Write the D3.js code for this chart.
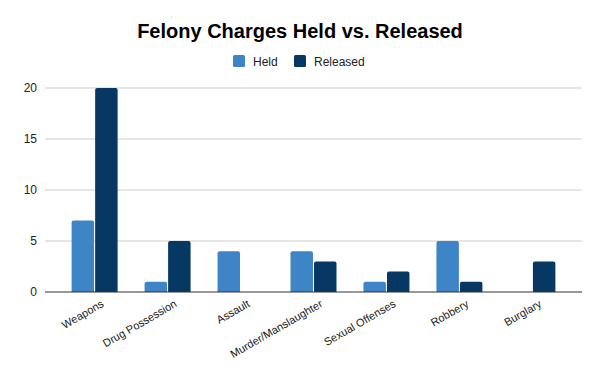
<!DOCTYPE html>
<html lang="en">
<head>
    <meta charset="UTF-8">
    <title>Felony Charges Held vs. Released</title>
    <script src="https://d3js.org/d3.v7.min.js"></script>
    <style>
        body { margin: 0; background: #fff; font-family: Arial, "Liberation Sans", sans-serif; }
    </style>
</head>
<body>
    <div id="chart"></div>
    <script>
        // Data
        const categories = ["Weapons", "Drug Possession", "Assault", "Murder/Manslaughter", "Sexual Offenses", "Robbery", "Burglary"];
        const seriesNames = ["Held", "Released"];
        const held = [7, 1, 4, 4, 1, 5, 0];
        const released = [20, 5, 0, 3, 2, 1, 3];
        const yTicks = [0, 5, 10, 15, 20];
        const colors = ["#3d85c6", "#073763"];

        const width = 600, height = 371;
        const margin = { top: 88, right: 18, bottom: 79, left: 45 };

        const svg = d3.select("#chart").append("svg")
            .attr("width", width)
            .attr("height", height);

        // Title
        svg.append("text")
            .attr("x", 300)
            .attr("y", 38)
            .attr("text-anchor", "middle")
            .style("font-family", "Arial, 'Liberation Sans', sans-serif")
            .style("font-weight", "bold")
            .style("font-size", "20px")
            .style("fill", "#000")
            .text("Felony Charges Held vs. Released");

        // Legend
        const legendX = [233, 294];
        const legend = svg.selectAll(".legend")
            .data(seriesNames)
            .enter().append("g")
            .attr("class", "legend")
            .attr("transform", (d, i) => `translate(${legendX[i]},55)`);
        legend.append("rect")
            .attr("width", 12).attr("height", 12).attr("rx", 1.5)
            .attr("fill", (d, i) => colors[i]);
        legend.append("text")
            .attr("x", 20).attr("y", 10.5)
            .style("font-size", "12px")
            .style("fill", "#222")
            .text(d => d);

        const x0 = d3.scaleBand()
            .domain(categories)
            .range([margin.left, width - margin.right])
            .paddingInner(0)
            .paddingOuter(0.18);

        const groupWidth = 46;
        const x1 = d3.scaleBand()
            .domain(seriesNames)
            .range([(x0.bandwidth() - groupWidth) / 2, (x0.bandwidth() + groupWidth) / 2])
            .paddingInner(0.045);

        const y = d3.scaleLinear()
            .domain([0, 20])
            .range([height - margin.bottom, margin.top]);

        // Gridlines
        svg.append("g")
            .selectAll("line")
            .data(yTicks.filter(t => t !== 0))
            .enter().append("line")
            .attr("x1", margin.left).attr("x2", width - margin.right)
            .attr("y1", d => y(d)).attr("y2", d => y(d))
            .attr("stroke", "#cccccc").attr("stroke-width", 1);

        // Y axis labels
        const yAxis = d3.axisLeft(y).tickValues(yTicks).tickSize(0).tickPadding(8);
        const yG = svg.append("g")
            .attr("transform", `translate(${margin.left},0)`)
            .call(yAxis);
        yG.select(".domain").remove();
        yG.selectAll("text")
            .style("font-family", "Arial, sans-serif")
            .style("font-size", "12px")
            .style("fill", "#222");

        // Bars with slightly rounded tops
        function barPath(x, yTop, w, yBase) {
            const h = yBase - yTop;
            if (h <= 0) return "";
            const r = Math.min(2, h, w / 2);
            return `M${x},${yBase}V${yTop + r}Q${x},${yTop} ${x + r},${yTop}` +
                `H${x + w - r}Q${x + w},${yTop} ${x + w},${yTop + r}V${yBase}Z`;
        }

        const rows = categories.map((c, i) => ({ cat: c, values: [held[i], released[i]] }));
        const groups = svg.selectAll(".group")
            .data(rows)
            .enter().append("g")
            .attr("class", "group")
            .attr("transform", d => `translate(${x0(d.cat)},0)`);

        groups.selectAll("path")
            .data(d => d.values.map((v, i) => ({ key: seriesNames[i], value: v, i })))
            .enter().append("path")
            .attr("d", d => barPath(x1(d.key), y(d.value), x1.bandwidth(), y(0)))
            .attr("fill", d => colors[d.i]);

        // X axis
        const xAxis = d3.axisBottom(x0).tickSize(0).tickPadding(0);
        const xG = svg.append("g")
            .attr("transform", `translate(0,${y(0)})`)
            .call(xAxis);
        xG.select(".domain").remove();
        xG.selectAll("text")
            .style("font-family", "Arial, sans-serif")
            .style("font-size", "11px")
            .style("fill", "#222")
            .attr("text-anchor", "end")
            .attr("y", 0)
            .attr("dy", 0)
            .attr("transform", "translate(10,14) rotate(-30)");

        svg.append("line")
            .attr("x1", margin.left).attr("x2", width - margin.right)
            .attr("y1", y(0)).attr("y2", y(0))
            .attr("stroke", "#333").attr("stroke-width", 1.2);
    </script>
</body>
</html>
